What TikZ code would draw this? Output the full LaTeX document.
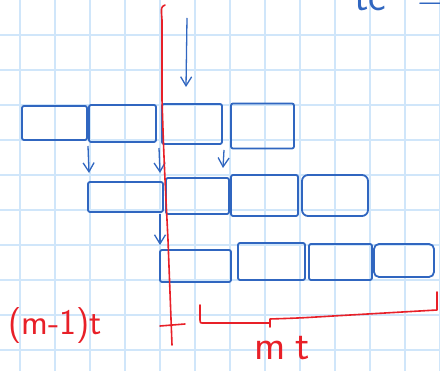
\documentclass[tikz,border=0pt]{standalone}
\usetikzlibrary{arrows.meta}
\definecolor{gridc}{RGB}{208,230,250}
\definecolor{pen}{RGB}{48,102,192}
\definecolor{redpen}{RGB}{232,32,40}
\begin{document}
\begin{tikzpicture}[x=1pt,y=-1pt,
  blk/.style={draw=pen, line width=1.8pt, rounded corners=2pt, inner sep=0pt, fill=none},
  arr/.style={draw=pen, line width=1.3pt, -{Straight Barb[length=9pt,width=11pt,line width=1.3pt]}},
  redl/.style={draw=redpen, line width=1.6pt, line cap=round, line join=round},
  lbl/.style={font=\sffamily\fontsize{36}{36}\selectfont, inner sep=0pt},
  biglbl/.style={font=\sffamily\fontsize{42}{42}\selectfont, inner sep=0pt}]
\useasboundingbox (0,0) rectangle (440,371);
\fill[white] (0,0) rectangle (440,371);
% grid
\foreach \gx in {20,55,...,440} \draw[gridc, line width=1.2pt] (\gx,0) -- (\gx,371);
\foreach \gy in {35,70,...,371} \draw[gridc, line width=1.2pt] (0,\gy) -- (440,\gy);
% top-right partial text
\node[biglbl, text=pen, anchor=base west] (tc) at (354,11) {tc\hspace{32pt}=};
% row 1
\node[blk, minimum width=65pt, minimum height=34pt] (A) at (54.5,123) {};
\node[blk, minimum width=67pt, minimum height=37pt] (B) at (122.5,123.5) {};
\node[blk, minimum width=60pt, minimum height=40pt] (C) at (192,124) {};
\node[blk, minimum width=63pt, minimum height=45pt] (D) at (262.5,126) {};
% row 2
\node[blk, minimum width=75pt, minimum height=30pt] (E) at (125.5,197) {};
\node[blk, minimum width=63pt, minimum height=36pt] (F) at (197.5,196) {};
\node[blk, minimum width=67pt, minimum height=41pt] (G) at (264.5,195.5) {};
\node[blk, minimum width=66pt, minimum height=41pt, rounded corners=6pt] (H) at (335,195.5) {};
% row 3
\node[blk, minimum width=71pt, minimum height=32pt] (I) at (195.5,266) {};
\node[blk, minimum width=67pt, minimum height=37pt] (J) at (271.5,261.5) {};
\node[blk, minimum width=63pt, minimum height=36pt] (K) at (340.5,262) {};
\node[blk, minimum width=60pt, minimum height=33pt, rounded corners=5pt] (L) at (404,260.5) {};
% arrows
\coordinate (s1) at (187,18);
\coordinate (e1) at (186,87);
\draw[arr] (s1) -- (e1);
\coordinate (s2) at (88,146);
\coordinate (e2) at (89,173);
\draw[arr] (s2) -- (e2);
\coordinate (s3) at (159,148);
\coordinate (e3) at (160,173);
\draw[arr] (s3) -- (e3);
\coordinate (s4) at (224,150);
\coordinate (e4) at (223,168);
\draw[arr] (s4) -- (e4);
\coordinate (s5) at (160,214);
\coordinate (e5) at (160,245);
\draw[arr] (s5) -- (e5);
% red time line
\draw[redl] (165,5) .. controls (161,7) .. (162,20) -- (162,100) .. controls (164,160) .. (168,240) -- (172,345);
\draw[redl] (160,326) -- (185,324);
% bracket
\draw[redl] (200,305) -- (200,320) .. controls (200,323) .. (204,323) -- (270,323);
\draw[redl] (270,327) -- (270,319) .. controls (300,318) .. (333,316) -- (437,310) -- (437,292);
% labels
\node[lbl, text=redpen, anchor=base west] (lab1) at (8,335) {(m-1)t};
\node[biglbl, text=redpen, anchor=base west] (lab2) at (254,360) {m\hspace{10pt}t};
\end{tikzpicture}
\end{document}
